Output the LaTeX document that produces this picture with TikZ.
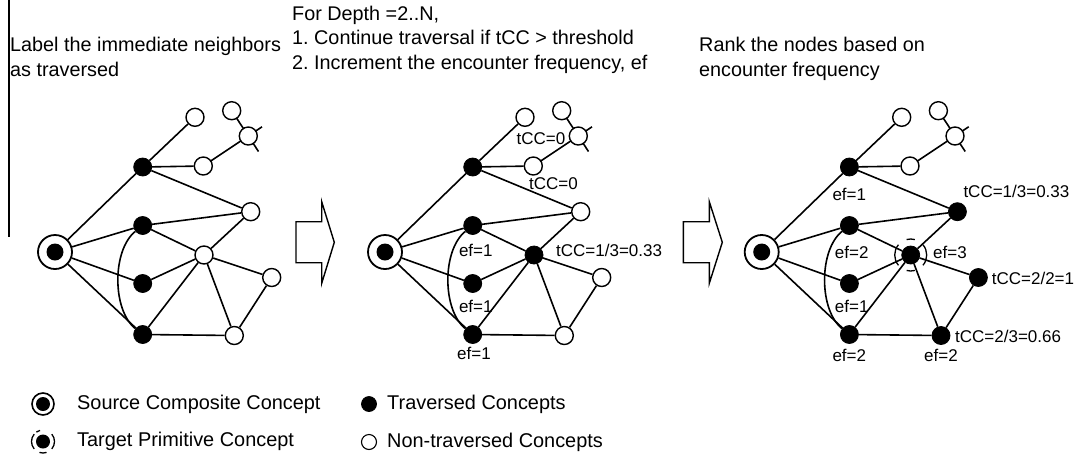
\documentclass[tikz,border=0pt]{standalone}
\usepackage{fontspec}
\setmainfont{Liberation Sans}
\frenchspacing
\usetikzlibrary{backgrounds}
\begin{document}
\begin{tikzpicture}[x=1pt,y=-1pt,
  edge/.style={line width=1.6pt,black},
  trav/.style={circle,fill=black,draw=black,line width=0.8pt,inner sep=0pt,minimum size=18pt},
  nontrav/.style={circle,fill=white,draw=black,line width=1.4pt,inner sep=0pt,minimum size=18pt},
  srcring/.style={circle,fill=white,draw=black,line width=1.8pt,inner sep=0pt,minimum size=34pt},
  srcdot/.style={circle,fill=black,inner sep=0pt,minimum size=17pt},
  hdr/.style={font=\fontsize{19.8}{24}\selectfont,anchor=base west,inner sep=0pt},
  lbl/.style={font=\fontsize{17}{20}\selectfont,inner sep=0pt},
  leg/.style={font=\fontsize{19.9}{24}\selectfont,anchor=west,inner sep=0pt},
  blockarrow/.style={draw=black,line width=1.4pt,line join=miter,fill=white},
  sfive/.style=nontrav, ssix/.style=nontrav, sseven/.style=nontrav, seight/.style=nontrav, stop/.style=nontrav]
\useasboundingbox (0,0) rectangle (1081,464);

\newcommand\conceptgraph{%
  \node[srcring] (S) at (55,252) {};
  \node[srcdot] (Sc) at (55,252) {};
  \node[stop] (A) at (142.7,167) {};
  \node[trav] (B) at (142.7,225.5) {};
  \node[trav] (C) at (142.7,283.5) {};
  \node[trav] (D) at (142.7,334.5) {};
  \node[nontrav] (O1) at (195,117.3) {};
  \node[nontrav] (O2) at (231.7,110.7) {};
  \node[nontrav] (O3) at (248.3,136) {};
  \node[nontrav] (O4) at (203.3,166) {};
  \node[sfive] (O5) at (250.7,211.7) {};
  \node[ssix] (O6) at (204,255) {};
  \node[sseven] (O7) at (271.7,277.5) {};
  \node[seight] (O8) at (234.3,335.5) {};
  \coordinate (X1) at (258.5,151.5);
  \coordinate (X2) at (262,126.8);
  \begin{pgfonlayer}{background}
    \draw[edge] (S) -- (A);
    \draw[edge] (S) -- (B);
    \draw[edge] (S) -- (C);
    \draw[edge] (S) -- (D);
    \draw[edge] (A) -- (O1);
    \draw[edge] (A) -- (O4);
    \draw[edge] (A) -- (O5);
    \draw[edge] (O2.center) -- (X1);
    \draw[edge] (O4.center) -- (X2);
    \draw[edge] (B) -- (O5);
    \draw[edge] (B) -- (O6);
    \draw[edge] (C) -- (O6);
    \draw[edge] (D) -- (O6);
    \draw[edge] (D) -- (O8);
    \draw[edge] (O6) -- (O5);
    \draw[edge] (O6) -- (O7);
    \draw[edge] (O6) -- (O8);
    \draw[edge] (O7) -- (O8);
    \draw[edge] (B) .. controls (112,250) and (112,310) .. (D);
  \end{pgfonlayer}
}

% left vertical rule
\coordinate (rt) at (9,0);
\coordinate (rb) at (9,237);
\draw[line width=1.4pt] (rt) -- (rb);

% headers
\node[hdr] (h1a) at (10,51) {Label the immediate neighbors};
\node[hdr] (h1b) at (10,76) {as traversed};
\node[hdr] (h2a) at (292,20) {For Depth =2..N,};
\node[hdr] (h2b) at (292,44.5) {1. Continue traversal if tCC > threshold};
\node[hdr] (h2c) at (292,69) {2. Increment the encounter frequency, ef};
\node[hdr] (h3a) at (699,51) {Rank the nodes based on};
\node[hdr] (h3b) at (699,76) {encounter frequency};

% graphs
\begin{scope}[name prefix=L-, stop/.style=trav]
  \conceptgraph
\end{scope}
\begin{scope}[shift={(330,0)}, name prefix=M-, stop/.style=trav, ssix/.style=trav]
  \conceptgraph
\end{scope}
\begin{scope}[shift={(706.7,0)}, name prefix=R-, stop/.style=trav, sfive/.style=trav, ssix/.style=trav, sseven/.style=trav, seight/.style=trav]
  \conceptgraph
\end{scope}

% target ring in right graph
\coordinate (tc) at (910.7,255);
\draw[line width=1.3pt] ([shift={(140:16)}]tc) arc[start angle=140,end angle=220,radius=16];
\draw[line width=1.3pt] ([shift={(-40:16)}]tc) arc[start angle=-40,end angle=40,radius=16];
\draw[line width=1.3pt] ([shift={(75:16)}]tc) arc[start angle=75,end angle=105,radius=16];
\draw[line width=1.3pt] ([shift={(255:16)}]tc) arc[start angle=255,end angle=285,radius=16];

% block arrows
\draw[blockarrow] (296,221.7) -- (321.7,221.7) -- (321.7,201.7) -- (334.3,242.3) -- (321.7,283.3) -- (321.7,262.7) -- (296,262.7) -- cycle;
\draw[blockarrow] (683.3,221.7) -- (709.3,221.7) -- (709.3,201.7) -- (722.3,242.3) -- (709.3,283.3) -- (709.3,262.7) -- (683.3,262.7) -- cycle;

% middle labels
\node[lbl,anchor=west] (m1) at (516.5,138.3) {tCC=0};
\node[lbl,anchor=west] (m2) at (529,184) {tCC=0};
\node[lbl] (m3) at (475.8,250.7) {ef=1};
\node[lbl] (m4) at (475.8,306.7) {ef=1};
\node[lbl] (m5) at (474,353) {ef=1};
\node[lbl,anchor=west] (m6) at (556,250.7) {tCC=1/3=0.33};

% right labels
\node[lbl] (r1) at (849.3,194.3) {ef=1};
\node[lbl,anchor=west] (r2) at (963.3,191) {tCC=1/3=0.33};
\node[lbl] (r3) at (851.7,252.7) {ef=2};
\node[lbl] (r4) at (950,252.7) {ef=3};
\node[lbl,anchor=west] (r5) at (991.7,278.3) {tCC=2/2=1};
\node[lbl,anchor=west] (r7) at (955,336.7) {tCC=2/3=0.66};
\node[lbl] (r6) at (851.7,306.7) {ef=1};
\node[lbl] (r8) at (849.3,355.5) {ef=2};
\node[lbl] (r9) at (941,355.5) {ef=2};

% legend
\node[circle,draw=black,line width=1.6pt,inner sep=0pt,minimum size=22pt] (lsr) at (43,404) {};
\node[srcdot,minimum size=14pt] (lsd) at (43,404) {};
\node[leg] (lst) at (77,404) {Source Composite Concept};
\node[srcdot,minimum size=14pt] (ltd) at (43,441.5) {};
\coordinate (ltc) at (43,441.5);
\draw[line width=1.3pt] ([shift={(140:11.5)}]ltc) arc[start angle=140,end angle=220,radius=11.5];
\draw[line width=1.3pt] ([shift={(-40:11.5)}]ltc) arc[start angle=-40,end angle=40,radius=11.5];
\draw[line width=1.3pt] ([shift={(72:11.5)}]ltc) arc[start angle=72,end angle=108,radius=11.5];
\draw[line width=1.3pt] ([shift={(235:11.5)}]ltc) arc[start angle=235,end angle=255,radius=11.5];
\node[leg] (ltt) at (77,441.5) {Target Primitive Concept};
\node[trav,minimum size=15pt] (ltr) at (369,404) {};
\node[leg] (ltrt) at (387,404) {Traversed Concepts};
\node[nontrav,line width=1.1pt,minimum size=15pt] (lnt) at (369,442) {};
\node[leg] (lntt) at (387,442) {Non-traversed Concepts};
\end{tikzpicture}
\end{document}
